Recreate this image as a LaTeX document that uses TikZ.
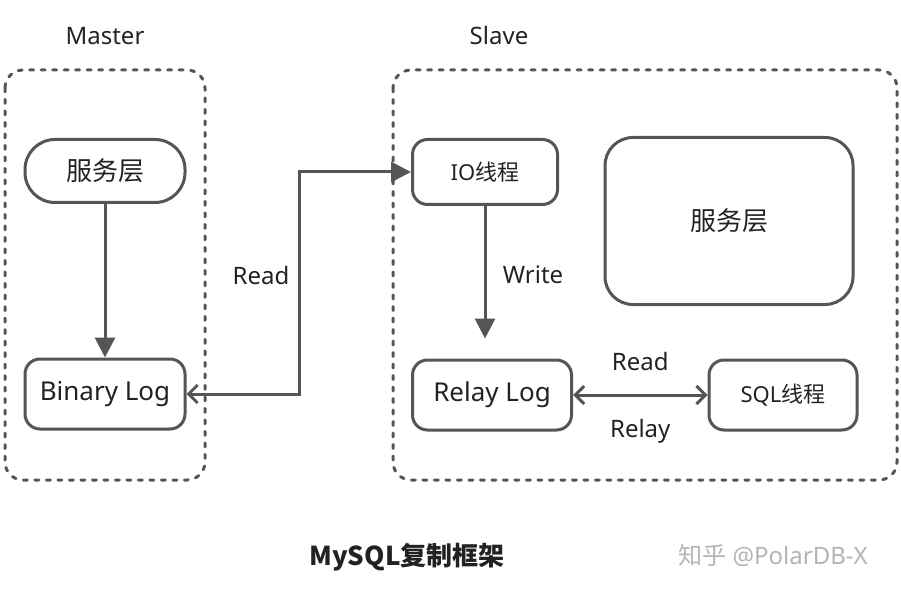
\documentclass[tikz,border=0pt]{standalone}
\usepackage{fontspec}
\setmainfont{Noto Sans}
\newfontfamily\cjk{Noto Sans CJK SC}
\usetikzlibrary{arrows.meta}

\definecolor{linegray}{HTML}{555555}
\definecolor{txtgray}{HTML}{222222}
\definecolor{markgray}{HTML}{B4B4B4}

\tikzset{
  box/.style={draw=linegray, line width=3pt, rounded corners=15pt, align=center,
    text=txtgray, inner sep=0pt, font=\fontsize{26}{30}\selectfont},
  smallbox/.style={box, font=\fontsize{22}{26}\selectfont},
  group/.style={draw=linegray, line width=3pt, dash pattern=on 4pt off 7.5pt,
    line cap=round, rounded corners=18pt},
  conn/.style={draw=linegray, line width=3pt},
  lbl/.style={text=txtgray, font=\fontsize{24}{28}\selectfont},
  barb/.tip={Straight Barb[length=9pt,width=18pt,line width=3pt]},
  tri/.tip={Triangle[length=20pt,width=20pt]}
}

\begin{document}
\begin{tikzpicture}[x=1pt, y=-1pt]
\useasboundingbox (0,0) rectangle (901,593);

% groups
\draw[group] (5,70) rectangle (205,480);
\draw[group] (393,70) rectangle (897,480);
\node (master) [lbl] at (105,36) {Master};
\node (slave) [lbl] at (499,36) {Slave};

% master side
\node (srv1) [box, rounded corners=30pt, minimum width=160pt, minimum height=63pt] at (105,171) {\cjk 服务层};
\node (binlog) [box, minimum width=160pt, minimum height=70pt] at (105,394) {Binary Log};

% slave side
\node (io) [smallbox, minimum width=145pt, minimum height=65pt] at (485,172) {IO{\cjk 线程}};
\node (srv2) [box, rounded corners=28pt, minimum width=248pt, minimum height=167pt] at (729,221) {\cjk 服务层};
\node (relay) [box, minimum width=159pt, minimum height=70pt] at (492,395) {Relay Log};
\node (sql) [smallbox, minimum width=148pt, minimum height=70pt] at (783,395) {SQL{\cjk 线程}};

% connectors
\draw[conn, -tri] (srv1) -- (binlog);
\draw[conn, barb-tri] (binlog.east) -- ++(113,0) |- (io.west);
\node (rd1) [lbl] at (261,275) {Read};
\draw[conn, -tri, shorten >=20pt] (io) -- (io |- relay.north);
\node (wr) [lbl] at (533,275) {Write};
\draw[conn, barb-barb] (relay) -- (sql)
  node (rd2) [lbl, midway, yshift=34pt] {Read}
  node (rl) [lbl, midway, yshift=-36pt] {Relay};

% caption
\node (title) [text=txtgray, font=\fontsize{26}{30}\selectfont\cjk\bfseries] at (407,557) {MySQL复制框架};
\node (mark) [text=markgray, font=\fontsize{24}{28}\selectfont] at (773,555) {{\cjk 知乎} @PolarDB-X};
\end{tikzpicture}
\end{document}
